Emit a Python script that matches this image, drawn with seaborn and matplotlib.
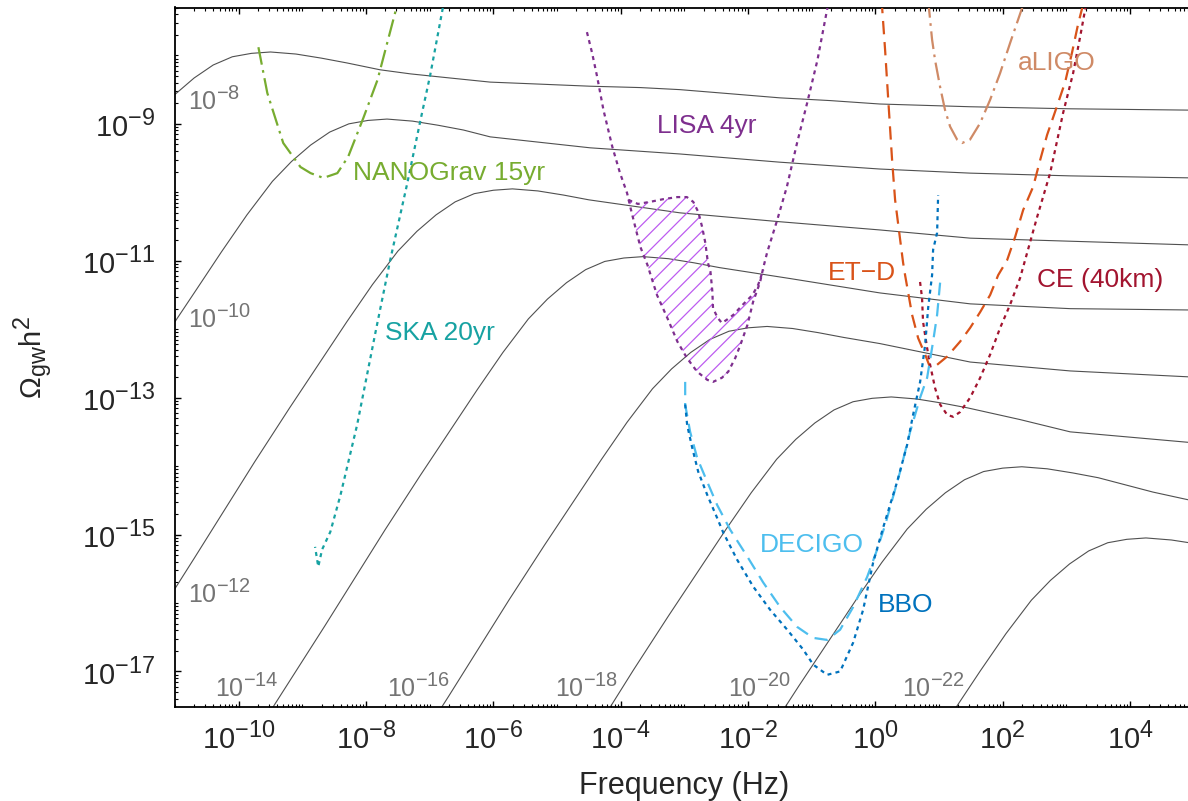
import matplotlib

matplotlib.use("Agg")

import matplotlib._mathtext as mathtext_internals
import matplotlib.pyplot as plt
import numpy as np
import pandas as pd
import seaborn as sns
from matplotlib.ticker import FixedLocator, FuncFormatter, LogLocator, NullFormatter

# All values are log10(f / Hz) and log10(Omega_gw h^2).

# black signal spectra, labelled by their parameter value (exponent)
SIGNAL_EXPONENTS = [-8, -10, -12, -14, -16, -18, -20, -22]

SIG_8_LOGF = [-11.00, -10.70, -10.40, -10.10, -9.80, -9.50, -9.10, -8.70, -8.30, -7.78, -7.30, -6.68,
              -6.05, -5.26, -4.48, -3.69, -3.07, -2.28, -1.50, -0.71, 0.07, 1.49, 3.06, 5.00]
SIG_8_LOGO = [-8.57, -8.33, -8.14, -8.02, -7.97, -7.95, -7.98, -8.04, -8.11, -8.21, -8.27, -8.33,
              -8.39, -8.42, -8.45, -8.47, -8.50, -8.56, -8.62, -8.66, -8.71, -8.75, -8.78, -8.80]

SIG_10_LOGF = [-11.00, -10.67, -10.27, -9.87, -9.47, -9.17, -8.87, -8.57, -8.27, -7.97, -7.67, -7.27,
               -6.87, -6.47, -6.05, -4.48, -3.07, -1.50, 0.07, 1.49, 3.06, 5.00]
SIG_10_LOGO = [-11.89, -11.43, -10.87, -10.33, -9.84, -9.55, -9.31, -9.12, -9.00, -8.95, -8.93, -8.96,
               -9.02, -9.09, -9.19, -9.35, -9.44, -9.56, -9.66, -9.72, -9.76, -9.79]

SIG_12_LOGF = [-11.00, -10.70, -9.75, -9.20, -8.70, -8.30, -7.90, -7.50, -7.20, -6.90, -6.60, -6.30,
               -6.00, -5.70, -5.30, -4.90, -4.50, -3.07, -1.50, 0.07, 1.49, 5.00]
SIG_12_LOGO = [-15.79, -15.35, -13.94, -13.15, -12.45, -11.89, -11.35, -10.86, -10.57, -10.33, -10.14,
               -10.02, -9.97, -9.95, -9.98, -10.04, -10.11, -10.30, -10.43, -10.55, -10.67, -10.77]

SIG_14_LOGF = [-9.60, -9.46, -8.65, -7.70, -7.15, -6.65, -6.25, -5.85, -5.45, -5.15, -4.85, -4.55,
               -4.25, -3.95, -3.65, -3.25, -2.85, -2.45, -1.34, 0.07, 1.49, 3.06, 5.00]
SIG_14_LOGO = [-17.72, -17.52, -16.34, -14.93, -14.14, -13.44, -12.88, -12.34, -11.85, -11.56, -11.32,
               -11.13, -11.01, -10.96, -10.94, -10.97, -11.03, -11.10, -11.26, -11.47, -11.63, -11.70,
               -11.72]

SIG_16_LOGF = [-7.51, -6.70, -5.75, -5.20, -4.70, -4.30, -3.90, -3.50, -3.20, -2.90, -2.60, -2.30,
               -2.00, -1.70, -1.30, -0.90, -0.50, 0.07, 1.49, 3.06, 5.00]
SIG_16_LOGO = [-18.54, -17.36, -15.95, -15.16, -14.46, -13.90, -13.36, -12.87, -12.58, -12.34, -12.15,
               -12.03, -11.98, -11.96, -11.99, -12.05, -12.12, -12.21, -12.48, -12.61, -12.70]

SIG_18_LOGF = [-4.75, -3.80, -3.25, -2.75, -2.35, -1.95, -1.55, -1.25, -0.95, -0.65, -0.35, -0.05,
               0.25, 0.65, 1.05, 1.45, 2.27, 3.06, 5.00]
SIG_18_LOGO = [-18.39, -16.98, -16.19, -15.49, -14.93, -14.39, -13.90, -13.61, -13.37, -13.18, -13.06,
               -13.01, -12.99, -13.02, -13.08, -13.15, -13.32, -13.50, -13.66]

SIG_20_LOGF = [-1.75, -1.20, -0.70, -0.30, 0.10, 0.50, 0.80, 1.10, 1.40, 1.70, 2.00, 2.30, 2.70,
               3.10, 3.50, 4.36, 5.00]
SIG_20_LOGO = [-18.00, -17.21, -16.51, -15.95, -15.41, -14.92, -14.63, -14.39, -14.20, -14.08, -14.03,
               -14.01, -14.04, -14.10, -14.17, -14.38, -14.51]

SIG_22_LOGF = [0.75, 1.25, 1.65, 2.05, 2.45, 2.75, 3.05, 3.35, 3.65, 3.95, 4.25, 4.65, 5.00]
SIG_22_LOGO = [-18.25, -17.55, -16.99, -16.45, -15.96, -15.67, -15.43, -15.24, -15.12, -15.07, -15.05,
               -15.08, -15.13]

# detector sensitivity curves
NANOGRAV_LOGF = [-9.69, -9.55, -9.30, -9.03, -8.87, -8.67, -8.45, -8.28, -8.04, -7.82, -7.49]
NANOGRAV_LOGO = [-7.88, -8.55, -9.28, -9.63, -9.72, -9.79, -9.72, -9.48, -8.91, -8.36, -7.19]

SKA_LOGF = [-6.77, -6.99, -7.15, -7.35, -7.62, -7.85, -8.14, -8.40, -8.56, -8.69, -8.75, -8.80]
SKA_LOGO = [-7.19, -8.28, -8.97, -9.86, -10.99, -12.04, -13.40, -14.42, -14.96, -15.22, -15.47, -15.18]

LISA_LOGF = [-4.53, -4.45, -4.37, -4.27, -4.13, -4.01, -3.90, -3.85, -3.77, -3.69, -3.58, -3.43,
             -3.27, -3.11, -2.96, -2.80, -2.64, -2.55, -2.41, -2.31, -2.20, -2.12, -2.01, -1.92,
             -1.81, -1.76, -1.70, -1.54, -1.39, -1.23, -1.07, -0.91, -0.76, -0.73]
LISA_LOGO = [-7.66, -7.96, -8.31, -8.80, -9.34, -9.72, -10.01, -10.21, -10.51, -10.80, -11.06, -11.50,
             -11.83, -12.18, -12.42, -12.62, -12.74, -12.77, -12.71, -12.62, -12.42, -12.23, -11.94,
             -11.60, -11.31, -11.10, -10.88, -10.40, -9.92, -9.28, -8.69, -8.07, -7.34, -7.19]

LISA_TOP_LOGF = [-3.88, -3.73, -3.54, -3.33, -3.11, -2.96, -2.86, -2.78, -2.72, -2.67, -2.63, -2.59,
                 -2.56, -2.55, -2.48, -2.41, -2.33, -2.23, -2.08, -1.93, -1.84, -1.76]
LISA_TOP_LOGO = [-10.11, -10.17, -10.14, -10.10, -10.07, -10.07, -10.14, -10.29, -10.51, -10.74,
                 -11.03, -11.16, -11.45, -11.69, -11.83, -11.91, -11.86, -11.79, -11.64, -11.50,
                 -11.35, -11.13]

ETD_LOGF = [0.09, 0.107, 0.153, 0.200, 0.263, 0.310, 0.389, 0.436, 0.467, 0.577, 0.672, 0.782, 0.860,
            0.970, 1.127, 1.332, 1.489, 1.646, 1.803, 1.929, 2.070, 2.196, 2.321, 2.478, 2.588,
            2.698, 2.824, 2.981, 3.091, 3.185, 3.248, 3.264]
ETD_LOGO = [-7.19, -7.31, -7.92, -8.61, -9.53, -10.11, -10.69, -11.03, -11.21, -11.79, -12.13, -12.37,
            -12.56, -12.52, -12.40, -12.18, -11.98, -11.75, -11.50, -11.21, -10.99, -10.65, -10.26,
            -9.92, -9.53, -9.16, -8.82, -8.39, -7.95, -7.54, -7.31, -7.19]

CE_LOGF = [0.702, 0.733, 0.749, 0.812, 0.860, 0.938, 1.017, 1.127, 1.221, 1.331, 1.489, 1.646, 1.803,
           1.960, 2.117, 2.274, 2.541, 2.745, 2.949, 3.106, 3.216, 3.295, 3.32]
CE_LOGO = [-11.31, -11.54, -11.89, -12.27, -12.52, -12.86, -13.10, -13.25, -13.28, -13.21, -13.00,
           -12.71, -12.37, -11.98, -11.64, -11.25, -10.36, -9.72, -8.84, -8.26, -7.73, -7.33, -7.19]

ALIGO_LOGF = [0.829, 0.891, 0.938, 1.017, 1.095, 1.174, 1.284, 1.362, 1.487, 1.645, 1.802, 1.959,
              2.116, 2.241, 2.304, 2.35]
ALIGO_LOGO = [-7.19, -7.77, -8.07, -8.46, -8.80, -9.04, -9.23, -9.28, -9.23, -8.99, -8.65, -8.26,
              -7.82, -7.48, -7.31, -7.19]

DECIGO_LOGF = [-2.987, -2.987, -2.909, -2.799, -2.641, -2.484, -2.280, -2.013, -1.762, -1.495, -1.228,
               -0.977, -0.757, -0.553, -0.349, -0.129, 0.028, 0.154, 0.389, 0.546, 0.703, 0.813,
               0.907, 0.970, 1.017]
DECIGO_LOGO = [-12.77, -13.10, -13.50, -13.88, -14.23, -14.57, -14.93, -15.32, -15.70, -16.06, -16.35,
               -16.51, -16.54, -16.39, -16.06, -15.62, -15.22, -14.86, -14.08, -13.50, -13.00, -12.71,
               -12.18, -11.79, -11.32]

BBO_LOGF = [-2.987, -2.956, -2.877, -2.783, -2.641, -2.484, -2.390, -2.170, -1.919, -1.652, -1.385,
            -1.134, -0.977, -0.757, -0.553, -0.349, -0.192, -0.035, 0.122, 0.342, 0.499, 0.593,
            0.703, 0.782, 0.829, 0.891, 0.907, 0.970, 0.986]
BBO_LOGO = [-13.10, -13.40, -13.73, -14.08, -14.42, -14.76, -14.97, -15.37, -15.76, -16.10, -16.39,
            -16.68, -16.90, -17.05, -17.00, -16.58, -16.10, -15.41, -14.90, -14.23, -13.69, -13.25,
            -12.77, -12.23, -11.69, -11.21, -10.84, -10.59, -10.04]

DETECTOR_NAMES = ["NANOGrav 15yr", "SKA 20yr", "LISA 4yr", "aLIGO", "ET\u2212D", "CE (40km)",
                  "DECIGO", "BBO"]

MATLAB_BLUE = "#0072BD"
MATLAB_ORANGE = "#D95319"
MATLAB_PURPLE = "#7E2F8E"
MATLAB_GREEN = "#77AC30"
MATLAB_LIGHTBLUE = "#4DBEEE"
MATLAB_DARKRED = "#A2142F"
SKA_TEAL = "#17A2A2"
ALIGO_TAN = "#CF8A66"
HATCH_VIOLET = "#BD5CF0"
SIGNAL_GREY = "#505050"
LABEL_GREY = "#747474"

DOTTED = (0, (1.8, 1.9))
DASHED = (0, (6.0, 3.5))
DASHDOT = (0, (8.0, 2.5, 1.2, 2.5))


def draw_curve(ax, logf, logo, color, linestyle="-", linewidth=1.6, zorder=3):
    df = pd.DataFrame({"f": 10.0 ** np.asarray(logf), "omega": 10.0 ** np.asarray(logo)})
    sns.lineplot(data=df, x="f", y="omega", sort=False, estimator=None, color=color,
                 linestyle=linestyle, linewidth=linewidth, zorder=zorder, ax=ax)


def decade_label(value, _pos):
    return rf"$10^{{{int(round(np.log10(value)))}}}$"


def main() -> None:
    sns.set_theme(style="ticks")
    plt.rcParams["font.family"] = ["Liberation Sans", "DejaVu Sans"]
    plt.rcParams["mathtext.fontset"] = "custom"
    plt.rcParams["mathtext.rm"] = "Liberation Sans"
    plt.rcParams["mathtext.it"] = "Liberation Sans:italic"
    plt.rcParams["mathtext.bf"] = "Liberation Sans:bold"
    plt.rcParams["hatch.linewidth"] = 0.9
    # exponents in the original are drawn a bit larger than mathtext's default
    if hasattr(mathtext_internals, "SHRINK_FACTOR"):
        mathtext_internals.SHRINK_FACTOR = 0.8

    fig = plt.figure(figsize=(11.88, 8.01), dpi=100)
    ax = fig.add_axes([175 / 1188, 94 / 801, 1018.7 / 1188, 699.5 / 801])
    ax.set_xscale("log")
    ax.set_yscale("log")

    signals = [
        (SIG_8_LOGF, SIG_8_LOGO), (SIG_10_LOGF, SIG_10_LOGO), (SIG_12_LOGF, SIG_12_LOGO),
        (SIG_14_LOGF, SIG_14_LOGO), (SIG_16_LOGF, SIG_16_LOGO), (SIG_18_LOGF, SIG_18_LOGO),
        (SIG_20_LOGF, SIG_20_LOGO), (SIG_22_LOGF, SIG_22_LOGO),
    ]
    for logf, logo in signals:
        draw_curve(ax, logf, logo, SIGNAL_GREY, linewidth=0.8, zorder=2)

    # hatched band between the two LISA curves
    band_f = LISA_TOP_LOGF + LISA_LOGF[24:6:-1]
    band_o = LISA_TOP_LOGO + LISA_LOGO[24:6:-1]
    ax.fill(10.0 ** np.array(band_f), 10.0 ** np.array(band_o), facecolor="none",
            edgecolor=HATCH_VIOLET, hatch="//", linewidth=0, zorder=2.5)

    draw_curve(ax, NANOGRAV_LOGF, NANOGRAV_LOGO, MATLAB_GREEN, DASHDOT)
    draw_curve(ax, SKA_LOGF, SKA_LOGO, SKA_TEAL, DOTTED)
    draw_curve(ax, LISA_LOGF, LISA_LOGO, MATLAB_PURPLE, DOTTED)
    draw_curve(ax, LISA_TOP_LOGF, LISA_TOP_LOGO, MATLAB_PURPLE, DOTTED)
    draw_curve(ax, ALIGO_LOGF, ALIGO_LOGO, ALIGO_TAN, DASHDOT)
    draw_curve(ax, ETD_LOGF, ETD_LOGO, MATLAB_ORANGE, DASHED)
    draw_curve(ax, CE_LOGF, CE_LOGO, MATLAB_DARKRED, DOTTED)
    draw_curve(ax, DECIGO_LOGF, DECIGO_LOGO, MATLAB_LIGHTBLUE, DASHED)
    draw_curve(ax, BBO_LOGF, BBO_LOGO, MATLAB_BLUE, DOTTED)

    # parameter labels of the signal spectra
    signal_label_pos = [(-10.79, -8.80), (-10.79, -11.98), (-10.79, -16.00), (-10.37, -17.38),
                        (-7.67, -17.38), (-5.03, -17.38), (-2.31, -17.38), (0.42, -17.38)]
    for exponent, (lx, ly) in zip(SIGNAL_EXPONENTS, signal_label_pos):
        ax.text(10.0 ** lx, 10.0 ** ly, rf"$10^{{{exponent}}}$", color=LABEL_GREY, fontsize=18,
                ha="left", va="baseline", zorder=4)

    detector_label_pos = [(-8.20, -9.82), (-7.70, -12.16), (-3.43, -9.13), (2.24, -8.21),
                          (-0.74, -11.28), (2.54, -11.38), (-1.81, -15.25), (0.04, -16.13)]
    detector_colors = [MATLAB_GREEN, SKA_TEAL, MATLAB_PURPLE, ALIGO_TAN, MATLAB_ORANGE,
                       MATLAB_DARKRED, MATLAB_LIGHTBLUE, MATLAB_BLUE]
    for name, (lx, ly), color in zip(DETECTOR_NAMES, detector_label_pos, detector_colors):
        ax.text(10.0 ** lx, 10.0 ** ly, name, color=color, fontsize=19, ha="left",
                va="baseline", zorder=4)

    ax.set_xlim(1e-11, 1e5)
    ax.set_ylim(10 ** -17.52, 10 ** -7.30)

    ax.xaxis.set_major_locator(FixedLocator([1e-10, 1e-8, 1e-6, 1e-4, 1e-2, 1e0, 1e2, 1e4]))
    ax.yaxis.set_major_locator(FixedLocator([1e-17, 1e-15, 1e-13, 1e-11, 1e-9]))
    for axis in (ax.xaxis, ax.yaxis):
        axis.set_major_formatter(FuncFormatter(decade_label))
        axis.set_minor_locator(LogLocator(base=10, subs=np.arange(1, 10), numticks=200))
        axis.set_minor_formatter(NullFormatter())

    ax.tick_params(which="both", direction="in", top=True, right=True, color="black")
    ax.tick_params(which="major", length=4.5, width=1.0, labelsize=21)
    ax.tick_params(which="minor", length=2.2, width=0.8)
    ax.tick_params(axis="y", which="major", pad=14)
    ax.tick_params(axis="x", which="major", pad=11)
    for spine in ax.spines.values():
        spine.set_linewidth(1.3)
        spine.set_color("black")

    ax.set_xlabel("Frequency (Hz)", fontsize=22)
    ax.set_ylabel(r"$\Omega_{\mathrm{gw}}\mathrm{h}^2$", fontsize=21)
    ax.xaxis.set_label_coords(0.5, -0.0915)
    ax.yaxis.set_label_coords(-0.118, 0.5)

    fig.savefig("out.png", dpi=100)


if __name__ == "__main__":
    main()
